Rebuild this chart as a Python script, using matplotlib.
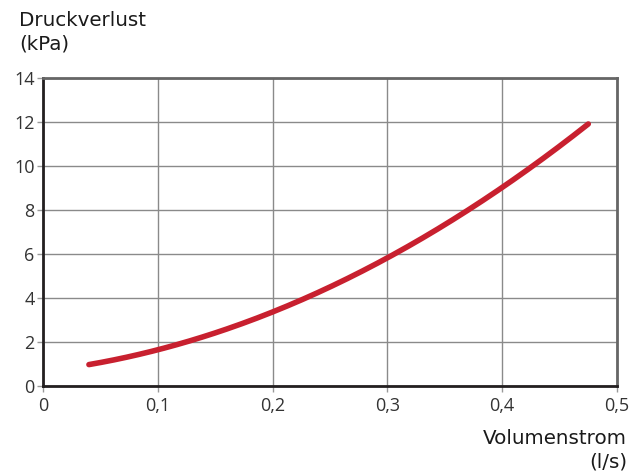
import matplotlib
matplotlib.use("Agg")
import matplotlib.pyplot as plt
import numpy as np

plt.rcParams['font.family'] = ['Open Sans', 'DejaVu Sans']

flow = [0.04, 0.10, 0.15, 0.20, 0.25, 0.30, 0.35, 0.40, 0.45, 0.475]
pressure = [0.95, 1.70, 2.40, 3.35, 4.50, 5.80, 7.35, 9.05, 10.90, 11.90]
xticks = [0, 0.1, 0.2, 0.3, 0.4, 0.5]
xlabels = ["0", "0,1", "0,2", "0,3", "0,4", "0,5"]
yticks = [0, 2, 4, 6, 8, 10, 12, 14]

fig = plt.figure(figsize=(6.42, 4.73), dpi=100)
ax = fig.add_axes([43/642, 1-386/473, (617-43)/642, (386-78)/473])

coef = np.polyfit(flow, pressure, 3)
xs = np.linspace(flow[0], flow[-1], 200)
ax.plot(xs, np.polyval(coef, xs), color='#c8202f', lw=4, solid_capstyle='round', zorder=3)

ax.set_xlim(0, 0.5)
ax.set_ylim(0, 14)
ax.set_xticks(xticks)
ax.set_xticklabels(xlabels)
ax.set_yticks(yticks)
ax.grid(True, color='#8a8a8a', lw=1)
ax.set_axisbelow(True)
for s in ['left', 'bottom']:
    ax.spines[s].set_color('#231f20')
    ax.spines[s].set_linewidth(2)
for s in ['top', 'right']:
    ax.spines[s].set_color('#666666')
    ax.spines[s].set_linewidth(2)
ax.tick_params(axis='both', length=4, width=1, color='#999999', labelsize=13, labelcolor='#333333', pad=2)
ax.tick_params(axis='x', pad=4)

fs = 14.3
tf = ['DejaVu Sans']
fig.text(19/642, 1-20/473, "Druckverlust", fontsize=fs, family=tf, color='#1a1a1a', va='center', ha='left')
fig.text(19/642, 1-44/473, "(kPa)", fontsize=fs, family=tf, color='#1a1a1a', va='center', ha='left')
fig.text(627/642, 1-438/473, "Volumenstrom", fontsize=fs, family=tf, color='#1a1a1a', va='center', ha='right')
fig.text(627/642, 1-462/473, "(l/s)", fontsize=fs, family=tf, color='#1a1a1a', va='center', ha='right')

fig.savefig("out.png", dpi=100)
